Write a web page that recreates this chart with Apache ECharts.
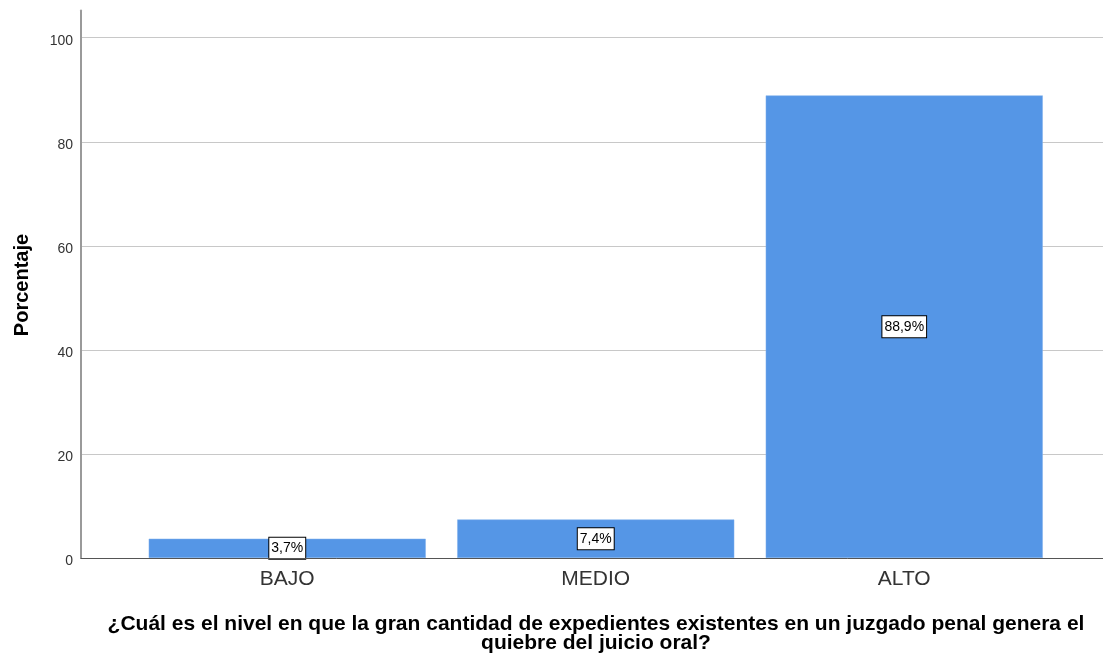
<!DOCTYPE html>
<html>
<head>
<meta charset="utf-8">
<script src="https://cdn.jsdelivr.net/npm/echarts@6/dist/echarts.min.js"></script>
<style>
html,body{margin:0;padding:0;background:#fff;}
#c{width:1103px;height:654px;}
</style>
</head>
<body>
<div id="c"></div>
<script>
const categories = ['BAJO', 'MEDIO', 'ALTO'];
const percentages = [3.7, 7.4, 88.9];
const yTicks = [0, 20, 40, 60, 80, 100];
const yAxisTitle = 'Porcentaje';
const xAxisTitle = '¿Cuál es el nivel en que la gran cantidad de expedientes existentes en un juzgado penal genera el\nquiebre del juicio oral?';

const FONT = '"Liberation Sans", Arial, sans-serif';
const chart = echarts.init(document.getElementById('c'), null, {renderer: 'canvas'});

chart.setOption({
  backgroundColor: '#ffffff',
  animation: false,
  grid: [
    {left: 81, right: 0, top: 10.5, bottom: 96},
    {left: 81, right: 0, top: 37.7, bottom: 96},
    {left: 133, right: 44.5, top: 37.7, bottom: 96}
  ],
  xAxis: [
    {gridIndex: 0, type: 'value', min: 0, max: 1, axisLine: {show: true, onZero: false, lineStyle: {color: '#555', width: 1}}, axisTick: {show: false}, axisLabel: {show: false}, splitLine: {show: false}, z: 5},
    {gridIndex: 1, type: 'value', min: 0, max: 1, show: false},
    {gridIndex: 2, type: 'category', data: categories,
      axisLine: {show: false}, axisTick: {show: false},
      axisLabel: {color: '#333', fontSize: 21, fontFamily: FONT, margin: 11}}
  ],
  yAxis: [
    {gridIndex: 0, type: 'value', min: 0, max: 105, axisLine: {show: true, lineStyle: {color: '#9a9a9a', width: 2}}, axisTick: {show: false}, axisLabel: {show: false}, splitLine: {show: false}, z: 5},
    {gridIndex: 1, type: 'value', min: yTicks[0], max: yTicks[yTicks.length - 1], interval: yTicks[1] - yTicks[0],
      axisLine: {show: false}, axisTick: {show: false},
      axisLabel: {color: '#333', fontSize: 14, fontFamily: FONT, margin: 8, verticalAlign: 'top', padding: [-4, 0, 0, 0]},
      splitLine: {show: true, lineStyle: {color: '#c8c8c8', width: 1}}},
    {gridIndex: 2, type: 'value', min: yTicks[0], max: yTicks[yTicks.length - 1], show: false}
  ],
  series: [{
    type: 'bar',
    xAxisIndex: 2,
    yAxisIndex: 2,
    data: percentages,
    barCategoryGap: '10.2%',
    itemStyle: {color: '#5596e6', borderColor: '#7fb0ec', borderWidth: 0.5},
    z: 3,
    label: {
      show: true,
      position: 'inside',
      formatter: p => String(p.value).replace('.', ',') + '%',
      color: '#000',
      fontSize: 14,
      fontFamily: FONT,
      backgroundColor: '#fff',
      borderColor: '#000',
      borderWidth: 1,
      padding: [4, 2, 3, 2]
    }
  }],
  graphic: [
    {type: 'text', x: 22, y: 285, rotation: Math.PI / 2,
      style: {text: yAxisTitle, fill: '#000', font: 'bold 20px ' + FONT, align: 'center', verticalAlign: 'middle'}},
    {type: 'text', x: 596, y: 615,
      style: {text: xAxisTitle, fill: '#000', font: 'bold 21px ' + FONT, align: 'center', verticalAlign: 'top', lineHeight: 19}}
  ]
});
</script>
</body>
</html>
